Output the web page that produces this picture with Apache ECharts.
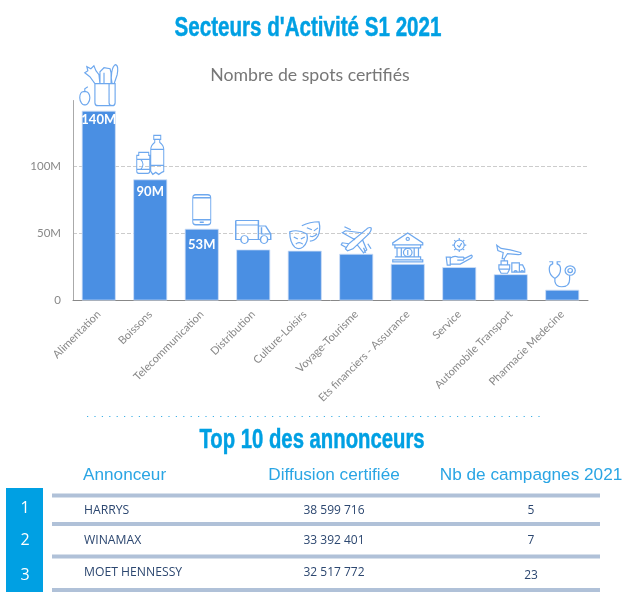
<!DOCTYPE html>
<html><head><meta charset="utf-8">
<style>html,body{margin:0;padding:0;background:#fff}#c{width:622px;height:592px}</style>
<script src="https://cdn.jsdelivr.net/npm/echarts@6/dist/echarts.min.js"></script></head>
<body><div id="c"></div>
<script>
const categories = ['Alimentation','Boissons','Telecommunication','Distribution','Culture-Loisirs','Voyage-Tourisme','Ets financiers - Assurance','Service','Automobile Transport','Pharmacie Medecine'];
const spots = [141,90,53.3,37.9,37,34.7,27.2,24.8,19.5,8];
const shownLabels = ['140M','90M','53M','','','','','','',''];
const yTickValues = [0,50,100];
const rowNames = ['HARRYS','WINAMAX','MOET HENNESSY'];
const rowDiffusion = ['38 599 716','33 392 401','32 517 772'];
const rowCampaigns = ['5','7','23'];
const tableHeads = ['Annonceur','Diffusion certifiée','Nb de campagnes 2021'];

const icons = [
 {w:38,h:41,gap:5,d:'M15 19V38Q15 41 18 41H32Q35 41 35 38V19Z M29 19V38Q29 41 32 41 M5 27C1 26 0 30 0 33C0 37 3 41 5 40C7 41 10 37 10 33C10 30 8 26 5 27Z M5 27V24L8 22 M15 19L10 12L5 8L8 6L7 2L11 4L14 1L16 6L19 10L20 19 M20 19V7L24 3L30 4L31 8V19 M32 19C30 12 32 2 35 0C38 0 38 5 37 10L34 19 M24 8V19'},
 {w:27,h:39,gap:5,d:'M2 17H12V20H13V36Q13 38 11 38H2Q0 38 0 36V20H2Z M0 24H13M0 34H13 M4 24C7 27 7 31 4 34 M17 0H24V4H17Z M18 4V7Q14 10 14 14V36L16 39L19 37L22 39L25 37L27 36V14Q27 10 23 7V4 M14 14H27M14 30H27'},
 {w:18,h:30,gap:4,d:'M3 0H15Q18 0 18 3V27Q18 30 15 30H3Q0 30 0 27V3Q0 0 3 0Z M0 3H18M0 25H18 M7 27.5H11'},
 {w:35,h:23,gap:6,d:'M0 1H22V18H12 M5 18H0V1 M0 5H22 M22 6H29L34 13V18H31 M24 18H22 M25 7V13H34 M5 18A3.5 3.5 0 1 1 12 18A3.5 3.5 0 1 1 5 18Z M24 18A3.5 3.5 0 1 1 31 18A3.5 3.5 0 1 1 24 18Z'},
 {w:30,h:27,gap:2,d:'M12 4Q20 0 29 0Q31 8 28 14Q25 19 20 19 M17 6L22 8M24 9L28 6 M20 14Q24 16 27 12 M0 10Q8 7 17 12Q19 20 13 25Q9 28 5 25Q0 20 0 10Z M4 15L8 17M11 17L15 15 M6 22Q9 19 13 22'},
 {w:30,h:26,gap:1,d:'M29 1Q30 3 27 7L12 22L7 24L5 22L8 17L24 3Q27 0 29 1Z M20 6L5 4L2 6L14 13 M21 13L25 23L22 26L16 18 M8 17L2 16L1 18L6 21 M22 21L24 26M26 17L29 22 M4 0L10 3'},
 {w:30,h:29,gap:2,d:'M15 0L29 10V12H1V10Z M3 12V15H27V12 M5 15V24M9 15V24M21 15V24M25 15V24 M3 24H27V27H1V29H29V27H27 M11 19.5A4 4 0 1 1 19 19.5A4 4 0 1 1 11 19.5Z M15 17V22 M13.5 6A1.5 1.5 0 1 1 16.5 6A1.5 1.5 0 1 1 13.5 6Z'},
 {w:26,h:27,gap:2,d:'M8 7A5 5 0 1 1 18 7A5 5 0 1 1 8 7Z M13 0V2M13 12V14M6 7H8M18 7H20M8 2L9.5 3.5M18 2L16.5 3.5M8 12L9.5 10.5M18 12L16.5 10.5 M11 7L13 9L15.5 5 M0 19H4V27H1Z M4 20Q8 17 12 19H17Q19 20 17 22H11 M17 21L25 17Q27 18 25 20L14 26H4'},
 {w:28,h:28,gap:1,d:'M2 1L6 4Q14 5 24 8Q26 10 22 10L12 9L9 14H7L8 8L3 6Z M4 20H14V24L12 28H6L4 24Z M6 20V16H12V20 M9 16V13 M4 24H14 M16 18H23V27H16Z M23 20H26L28 24V27H23 M18 27A1.5 1.5 0 1 1 21 27 M24 27A1.5 1.5 0 1 1 27 27'},
 {w:26,h:25,gap:3,d:'M1 0H4V2Q1 3 1 7Q1 13 6 16V19Q7 24 12 24Q19 24 19 17V13 M11 0H8V2Q11 3 11 7Q11 13 6 16 M15 8.5A4.5 4.5 0 1 1 24 8.5A4.5 4.5 0 1 1 15 8.5Z M17.5 8.5A2 2 0 1 1 21.5 8.5A2 2 0 1 1 17.5 8.5Z'}
];
const labelGaps = [3,6,10,0,0,0,0,0,0,0];

const blue = '#00a0e3', bar = '#4a8fe3', dark = '#2c4770';
const rowY = [511,541,572.5], rowYCamp = [511,541,575.5], numY = [507,539,574], ruleY = [495.5,524,556.5,590];
const colX = [83,334,531];
const g = [];
function heading(t,x,y,sx){
  g.push({type:'text',x:x,y:y,scaleX:sx,style:{text:t,x:0,y:0,align:'center',verticalAlign:'middle',font:'bold 28px "Liberation Sans"',fill:blue,stroke:blue,lineWidth:0.5}});
}
heading("Secteurs d'Activité S1 2021",308,28,0.735);
g.push({type:'text',style:{text:'Nombre de spots certifiés',x:310,y:75,align:'center',verticalAlign:'middle',font:'17.7px Lato',fill:'#777'}});
g.push({type:'line',shape:{x1:87,y1:416.5,x2:545,y2:416.5},style:{stroke:'#3fb0e6',lineWidth:1.2,lineDash:[1.2,6.2]}});
heading('Top 10 des annonceurs',312,440,0.725);
g.push({type:'rect',shape:{x:6,y:488,width:37,height:104},style:{fill:blue}});
ruleY.forEach(y=>g.push({type:'rect',shape:{x:52,y:y-2,width:548,height:4},style:{fill:'#b0c1d8'}}));
tableHeads.forEach((t,i)=>g.push({type:'text',style:{text:t,x:colX[i],y:475.5,align:i?'center':'left',verticalAlign:'middle',font:'17.2px "Liberation Sans"',fill:'#2aa5e4'}}));
rowNames.forEach((n,i)=>{
  g.push({type:'text',style:{text:String(i+1),x:25,y:numY[i]+1,align:'center',verticalAlign:'middle',font:'16px "Open Sans"',fill:'#fff'}});
  g.push({type:'text',style:{text:n,x:84,y:rowY[i],align:'left',verticalAlign:'middle',font:'12.2px "Open Sans"',fill:dark}});
  g.push({type:'text',style:{text:rowDiffusion[i],x:334,y:rowY[i],align:'center',verticalAlign:'middle',font:'12px "Open Sans"',fill:dark}});
  g.push({type:'text',style:{text:rowCampaigns[i],x:531,y:rowYCamp[i],align:'center',verticalAlign:'middle',font:'12px "Open Sans"',fill:dark}});
});

const chart = echarts.init(document.getElementById('c'),null,{renderer:'canvas'});
chart.setOption({
  animation:false,
  grid:{left:73,top:100.5,width:515,height:200},
  graphic:g,
  xAxis:{type:'category',data:categories,
    axisLine:{lineStyle:{color:'#888',width:1}},axisTick:{show:false},
    axisLabel:{rotate:45,interval:0,margin:12,color:'#888',fontFamily:'Lato',fontSize:11}},
  yAxis:{type:'value',min:0,max:148.6,interval:50,
    axisLine:{show:true,lineStyle:{color:'#aaa',width:1}},axisTick:{show:false},
    axisLabel:{margin:12,color:'#888',fontFamily:'Lato',fontSize:11.5,showMaxLabel:false,
      formatter:v=>yTickValues.includes(v)?(v?v+'M':'0'):''},
    splitLine:{show:true,showMinLine:false,showMaxLine:false,lineStyle:{type:'dashed',color:'#ccc',width:1}}},
  series:[
   {type:'bar',barWidth:34,
    data:spots.map((v,i)=>({value:v,label:{show:!!shownLabels[i],formatter:shownLabels[i],distance:labelGaps[i]}})),
    itemStyle:{color:bar,borderColor:'#cfe0f7',borderWidth:0.8},
    label:{position:'insideTop',color:'#fff',fontFamily:'Lato',fontSize:13,fontWeight:'bold'}},
   {type:'scatter',clip:false,silent:true,
    data:spots.map((v,i)=>({value:[i,v],symbol:'path://'+icons[i].d,symbolSize:[icons[i].w,icons[i].h],
      symbolOffset:[0,-(icons[i].h/2+icons[i].gap)]})),
    itemStyle:{color:'rgba(255,255,255,0)',borderColor:'#6ea8ee',borderWidth:1.2,opacity:1}}
  ]
});
</script></body></html>
